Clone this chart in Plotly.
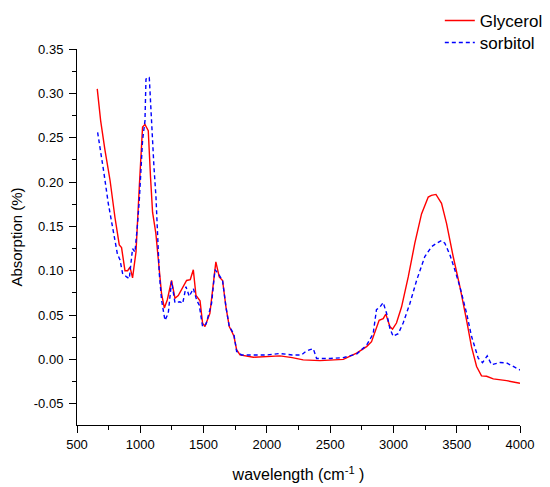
import plotly.graph_objects as go

glycerol_x = [660, 687, 721, 761, 800, 834, 852, 879, 900, 919, 939, 966, 992, 1018, 1037, 1063, 1081, 1097, 1123, 1150, 1168, 1190, 1213, 1247, 1274, 1300, 1326, 1366, 1395, 1419, 1440, 1472, 1492, 1511, 1550, 1577, 1597, 1624, 1650, 1677, 1703, 1721, 1740, 1761, 1788, 1893, 2000, 2104, 2200, 2287, 2420, 2500, 2604, 2709, 2788, 2827, 2853, 2887, 2919, 2940, 2972, 2993, 3024, 3064, 3117, 3169, 3222, 3275, 3300, 3336, 3380, 3420, 3472, 3525, 3578, 3617, 3657, 3696, 3736, 3789, 3894, 4000]
glycerol_y = [0.305, 0.269, 0.236, 0.202, 0.160, 0.129, 0.126, 0.100, 0.100, 0.104, 0.092, 0.121, 0.194, 0.262, 0.265, 0.258, 0.205, 0.166, 0.142, 0.095, 0.074, 0.058, 0.067, 0.089, 0.069, 0.072, 0.079, 0.089, 0.090, 0.101, 0.072, 0.066, 0.041, 0.037, 0.052, 0.082, 0.110, 0.093, 0.089, 0.059, 0.037, 0.032, 0.026, 0.011, 0.005, 0.0024, 0.003, 0.004, 0.002, -0.0006, -0.0014, -0.0006, 0.0, 0.007, 0.0144, 0.020, 0.031, 0.044, 0.046, 0.051, 0.037, 0.034, 0.041, 0.059, 0.093, 0.131, 0.164, 0.183, 0.185, 0.186, 0.176, 0.153, 0.116, 0.082, 0.044, 0.014, -0.008, -0.0186, -0.019, -0.022, -0.024, -0.027]

sorbitol_x = [663, 687, 713, 747, 787, 819, 840, 860, 892, 913, 939, 958, 976, 992, 1018, 1037, 1045, 1058, 1071, 1089, 1108, 1124, 1134, 1150, 1168, 1195, 1221, 1247, 1274, 1313, 1335, 1361, 1387, 1419, 1445, 1466, 1492, 1520, 1563, 1590, 1610, 1650, 1677, 1703, 1721, 1740, 1761, 1800, 1893, 2000, 2104, 2200, 2274, 2309, 2341, 2367, 2393, 2500, 2604, 2709, 2788, 2840, 2866, 2893, 2919, 2946, 2972, 2998, 3038, 3077, 3130, 3183, 3248, 3301, 3341, 3380, 3406, 3446, 3485, 3525, 3578, 3617, 3670, 3704, 3741, 3775, 3842, 3894, 3947, 4000]
sorbitol_y = [0.256, 0.236, 0.210, 0.176, 0.142, 0.119, 0.112, 0.097, 0.093, 0.091, 0.125, 0.121, 0.149, 0.179, 0.247, 0.269, 0.316, 0.318, 0.318, 0.262, 0.217, 0.183, 0.146, 0.097, 0.067, 0.044, 0.052, 0.088, 0.064, 0.065, 0.063, 0.082, 0.071, 0.080, 0.067, 0.061, 0.037, 0.040, 0.063, 0.101, 0.098, 0.089, 0.059, 0.037, 0.033, 0.028, 0.009, 0.005, 0.005, 0.005, 0.0066, 0.005, 0.005, 0.009, 0.011, 0.012, 0.001, 0.001, 0.002, 0.006, 0.016, 0.029, 0.056, 0.059, 0.064, 0.052, 0.035, 0.026, 0.029, 0.041, 0.063, 0.089, 0.116, 0.127, 0.131, 0.134, 0.131, 0.118, 0.101, 0.082, 0.052, 0.026, 0.0013, -0.0036, 0.004, -0.006, -0.0036, -0.004, -0.008, -0.012]

x_ticks = [500, 1000, 1500, 2000, 2500, 3000, 3500, 4000]
y_ticks = [-0.05, 0.00, 0.05, 0.10, 0.15, 0.20, 0.25, 0.30, 0.35]

fig = go.Figure()
fig.add_trace(go.Scatter(x=glycerol_x, y=glycerol_y, name="Glycerol", mode="lines",
                         line=dict(color="#FF0000", width=1.4), legend="legend"))
fig.add_trace(go.Scatter(x=sorbitol_x, y=sorbitol_y, name="sorbitol", mode="lines",
                         line=dict(color="#0000FF", width=1.4, dash="4px,3px"), legend="legend2"))

font = "Liberation Sans, Arial, sans-serif"
leg_common = dict(x=0.819, xanchor="left", yanchor="middle",
                  bgcolor="rgba(0,0,0,0)", font=dict(size=17, family=font))
# the page body adds an 8px offset, so the margins are shifted accordingly
fig.update_layout(
    width=550, height=487,
    margin=dict(l=69, r=38, t=41, b=70, autoexpand=False),
    plot_bgcolor="white", paper_bgcolor="white",
    font=dict(family=font, color="black", size=13),
    showlegend=True,
    legend=dict(y=1.0745, **leg_common),
    legend2=dict(y=1.016, **leg_common),
    xaxis=dict(range=[500, 4000], tickvals=x_ticks, ticktext=[str(v) for v in x_ticks],
               automargin=False,
               showgrid=False, zeroline=False, showline=True, linecolor="black", linewidth=1,
               ticks="outside", ticklen=7, tickcolor="black",
               minor=dict(dtick=250, tick0=500, ticks="outside", ticklen=4, tickcolor="black"),
               title=dict(text="wavelength (cm<sup>-1</sup> )", font=dict(size=16), standoff=18),
               tickfont=dict(size=13)),
    yaxis=dict(range=[-0.074, 0.35], tickvals=y_ticks, ticktext=["%.2f" % v for v in y_ticks],
               automargin=False,
               showgrid=False, zeroline=False, showline=True, linecolor="black", linewidth=1,
               ticks="outside", ticklen=7, tickcolor="black", ticklabelstandoff=3,
               minor=dict(dtick=0.025, tick0=0, ticks="outside", ticklen=4, tickcolor="black"),
               title=dict(text="Absorption (%)", font=dict(size=15), standoff=8),
               tickfont=dict(size=13)),
)

fig.write_html("out.html")
